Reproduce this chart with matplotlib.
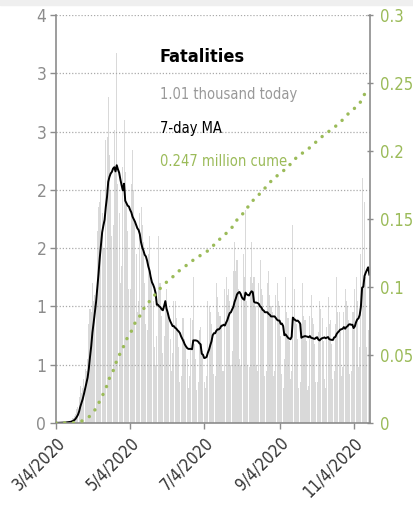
import matplotlib
matplotlib.use("Agg")
import matplotlib.pyplot as plt
import numpy as np
import pandas as pd

plt.rcParams['font.family'] = ['DejaVu Sans']
plt.rcParams['font.stretch'] = 'condensed'

# daily fatalities in thousands, from 3/4/2020, one row per week (Wed..Tue)
start_date = "2020-03-04"
daily_k = [
    0.002, 0.001, 0.002, 0.003, 0.002, 0.004, 0.005,
    0.008, 0.007, 0.011, 0.009, 0.012, 0.018, 0.024,
    0.04, 0.06, 0.08, 0.12, 0.14, 0.22, 0.32,
    0.26, 0.30, 0.38, 0.46, 0.45, 0.55, 0.85,
    0.98, 0.95, 1.20, 1.05, 1.10, 1.15, 1.65,
    1.85, 1.90, 2.00, 1.80, 1.50, 1.50, 2.43,
    2.45, 2.80, 2.30, 2.00, 1.60, 1.70, 2.51,
    2.20, 3.17, 2.05, 1.80, 1.20, 1.35, 2.20,
    2.60, 2.15, 1.90, 1.65, 1.15, 1.15, 2.05,
    2.34, 2.00, 1.75, 1.45, 0.95, 1.05, 1.80,
    1.85, 1.70, 1.55, 1.20, 0.85, 0.80, 1.45,
    1.60, 1.30, 1.25, 1.05, 0.65, 0.50, 0.75,
    1.60, 1.20, 1.20, 0.92, 0.60, 0.75, 1.05,
    1.15, 0.95, 0.90, 0.72, 0.45, 0.60, 1.05,
    1.05, 0.90, 0.80, 0.65, 0.35, 0.40, 0.90,
    0.90, 0.72, 0.68, 0.55, 0.30, 0.40, 0.90,
    0.88, 1.25, 0.68, 0.55, 0.28, 0.35, 0.80,
    0.82, 0.68, 0.62, 0.35, 0.30, 0.40, 1.05,
    1.00, 0.95, 0.85, 0.72, 0.42, 0.40, 1.20,
    1.08, 0.95, 0.92, 0.85, 0.45, 0.45, 1.15,
    1.25, 1.10, 1.15, 1.05, 0.50, 0.62, 1.30,
    1.55, 1.30, 1.40, 1.15, 0.55, 0.50, 1.10,
    1.45, 1.25, 1.83, 1.05, 0.50, 0.48, 1.25,
    1.55, 1.20, 1.25, 1.00, 0.50, 0.45, 1.20,
    1.40, 1.15, 1.10, 0.95, 0.40, 0.45, 1.20,
    1.30, 1.10, 1.00, 0.95, 0.40, 0.45, 1.10,
    1.20, 1.05, 1.00, 0.75, 0.42, 0.30, 0.55,
    1.25, 0.95, 0.90, 0.70, 0.38, 0.45, 1.70,
    1.15, 0.90, 0.85, 0.72, 0.30, 0.35, 0.85,
    1.20, 0.92, 0.88, 0.70, 0.28, 0.32, 0.92,
    1.10, 0.90, 0.85, 0.68, 0.35, 0.35, 0.78,
    1.05, 0.98, 0.90, 0.70, 0.38, 0.30, 0.82,
    1.08, 0.85, 0.88, 0.68, 0.38, 0.45, 0.85,
    1.25, 0.95, 0.95, 0.78, 0.40, 0.48, 0.95,
    1.15, 1.05, 1.00, 0.88, 0.42, 0.45, 0.95,
    0.95, 1.15, 1.25, 1.05, 0.48, 0.65, 1.45,
    2.10, 1.20, 1.90, 1.25, 0.65, 0.80, 1.01,
]

left_ticks = [0, 0.5, 1, 1.5, 2, 2.5, 3, 3.5]
left_labels = ["0", "1", "1", "2", "2", "3", "3", "4"]
right_ticks = [0, 0.05, 0.1, 0.15, 0.2, 0.25, 0.3]
right_labels = ["0", "0.05", "0.1", "0.15", "0.2", "0.25", "0.3"]
x_tick_dates = ["2020-03-04", "2020-05-04", "2020-07-04", "2020-09-04", "2020-11-04"]
x_tick_labels = ["3/4/2020", "5/4/2020", "7/4/2020", "9/4/2020", "11/4/2020"]

title = "Fatalities"
today_txt = "1.01 thousand today"
ma_txt = "7-day MA"
cume_txt = "0.247 million cume"

grey = "#8c8c8c"
green = "#9bbb59"

dates = pd.date_range(start_date, periods=len(daily_k), freq="D")
ma = pd.Series(daily_k).rolling(7, min_periods=1).mean()
cume = np.cumsum(daily_k) / 1000.0

fig = plt.figure(figsize=(4.14, 5.08), dpi=100)
fig.patches.append(plt.Rectangle((0, 1 - 5 / 508), 1, 5 / 508, transform=fig.transFigure,
                                 color="#efefef", zorder=0))
ax = fig.add_axes([56 / 414, 85 / 508, 314 / 414, 408 / 508])

ax.bar(dates, daily_k, width=0.85, color="#d9d9d9", linewidth=0)
ax.plot(dates, ma, color="black", lw=1.4)

ax.set_ylim(0, 3.5)
ax.set_xlim(dates[0], dates[0] + pd.Timedelta(days=258.5))
ax.set_yticks(left_ticks)
ax.set_yticklabels(left_labels)
ax.set_xticks(pd.to_datetime(x_tick_dates))
ax.set_xticklabels(x_tick_labels, rotation=45, ha="right", rotation_mode="anchor")
ax.yaxis.grid(True, linestyle=(0, (1, 1.5)), color="#aaaaaa", lw=0.9)

for s in ["top", "right"]:
    ax.spines[s].set_visible(False)
for s in ["left", "bottom"]:
    ax.spines[s].set_color(grey)
    ax.spines[s].set_linewidth(1.2)
ax.tick_params(axis="y", colors=grey, labelsize=12.5, length=4, width=1, pad=3)
ax.tick_params(axis="x", color=grey, labelcolor="#333333", labelsize=12, length=4, width=1, pad=4)

ax2 = ax.twinx()
ax2.plot(dates, cume, color=green, lw=2.5, linestyle=(0, (0.01, 2.5)), dash_capstyle="round")
ax2.set_ylim(0, 0.3)
ax2.set_yticks(right_ticks)
ax2.set_yticklabels(right_labels)
for s in ["top", "left", "bottom"]:
    ax2.spines[s].set_visible(False)
ax2.spines["right"].set_color(grey)
ax2.spines["right"].set_linewidth(1.2)
ax2.tick_params(axis="y", colors=grey, labelcolor=green, labelsize=12, length=5,
                width=1, direction="inout", pad=5)

fig.text(160 / 414, 1 - 57 / 508, title, fontsize=13, fontweight="bold", color="black",
         ha="left", va="center")
fig.text(160 / 414, 1 - 95 / 508, today_txt, fontsize=10.5, color="#999999", ha="left", va="center")
fig.text(160 / 414, 1 - 128 / 508, ma_txt, fontsize=10.5, color="black", ha="left", va="center")
fig.text(160 / 414, 1 - 162 / 508, cume_txt, fontsize=10.5, color=green, ha="left", va="center")

fig.savefig("out.png", dpi=100)
